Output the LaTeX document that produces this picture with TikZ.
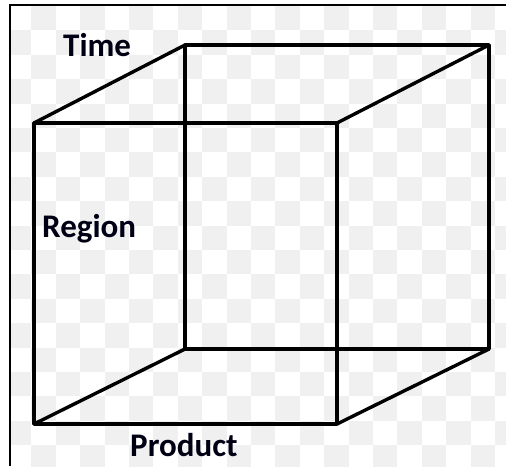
\documentclass[tikz,border=0pt]{standalone}
\usepackage{fontspec}
\setmainfont{Carlito}
\begin{document}
\begin{tikzpicture}[x=1pt,y=-1pt,
  edge/.style={line width=3.4pt,line cap=round,line join=round,black},
  lbl/.style={anchor=base west,inner sep=0pt,font=\fontsize{33}{38}\selectfont\bfseries,text=black!92!blue}]
\useasboundingbox (0,0) rectangle (506,466);
\fill[white] (0,0) rectangle (506,466);
% checkerboard
\foreach \i in {0,...,20}{
  \foreach \j in {0,...,19}{
    \pgfmathtruncatemacro{\odd}{mod(\i+\j,2)}
    \ifnum\odd=1
      \fill[black!6] ({7+24.4*\i},{6+24.4*\j}) rectangle ({7+24.4*(\i+1)},{6+24.4*(\j+1)});
    \fi
  }
}
\fill[white] (0,0) rectangle (10,466);
\fill[white] (0,0) rectangle (506,5);
% frame
\draw[line width=2pt] (10,466) -- (10,5) -- (506,5);
% cube corners
\coordinate (ftl) at (34,123);
\coordinate (ftr) at (337,123);
\coordinate (fbl) at (34,424);
\coordinate (fbr) at (337,424);
\coordinate (btl) at (185,45);
\coordinate (btr) at (489,45);
\coordinate (bbl) at (185,349);
\coordinate (bbr) at (489,349);
\draw[edge] (ftl) -- (ftr) -- (fbr) -- (fbl) -- cycle;
\draw[edge] (btl) -- (btr) -- (bbr) -- (bbl) -- cycle;
\draw[edge] (ftl) -- (btl);
\draw[edge] (ftr) -- (btr);
\draw[edge] (fbl) -- (bbl);
\draw[edge] (fbr) -- (bbr);
% labels
\node[lbl] (time) at (63,56) {Time};
\node[lbl] (region) at (42,237) {Region};
\node[lbl] (product) at (130,456) {Product};
\end{tikzpicture}
\end{document}
